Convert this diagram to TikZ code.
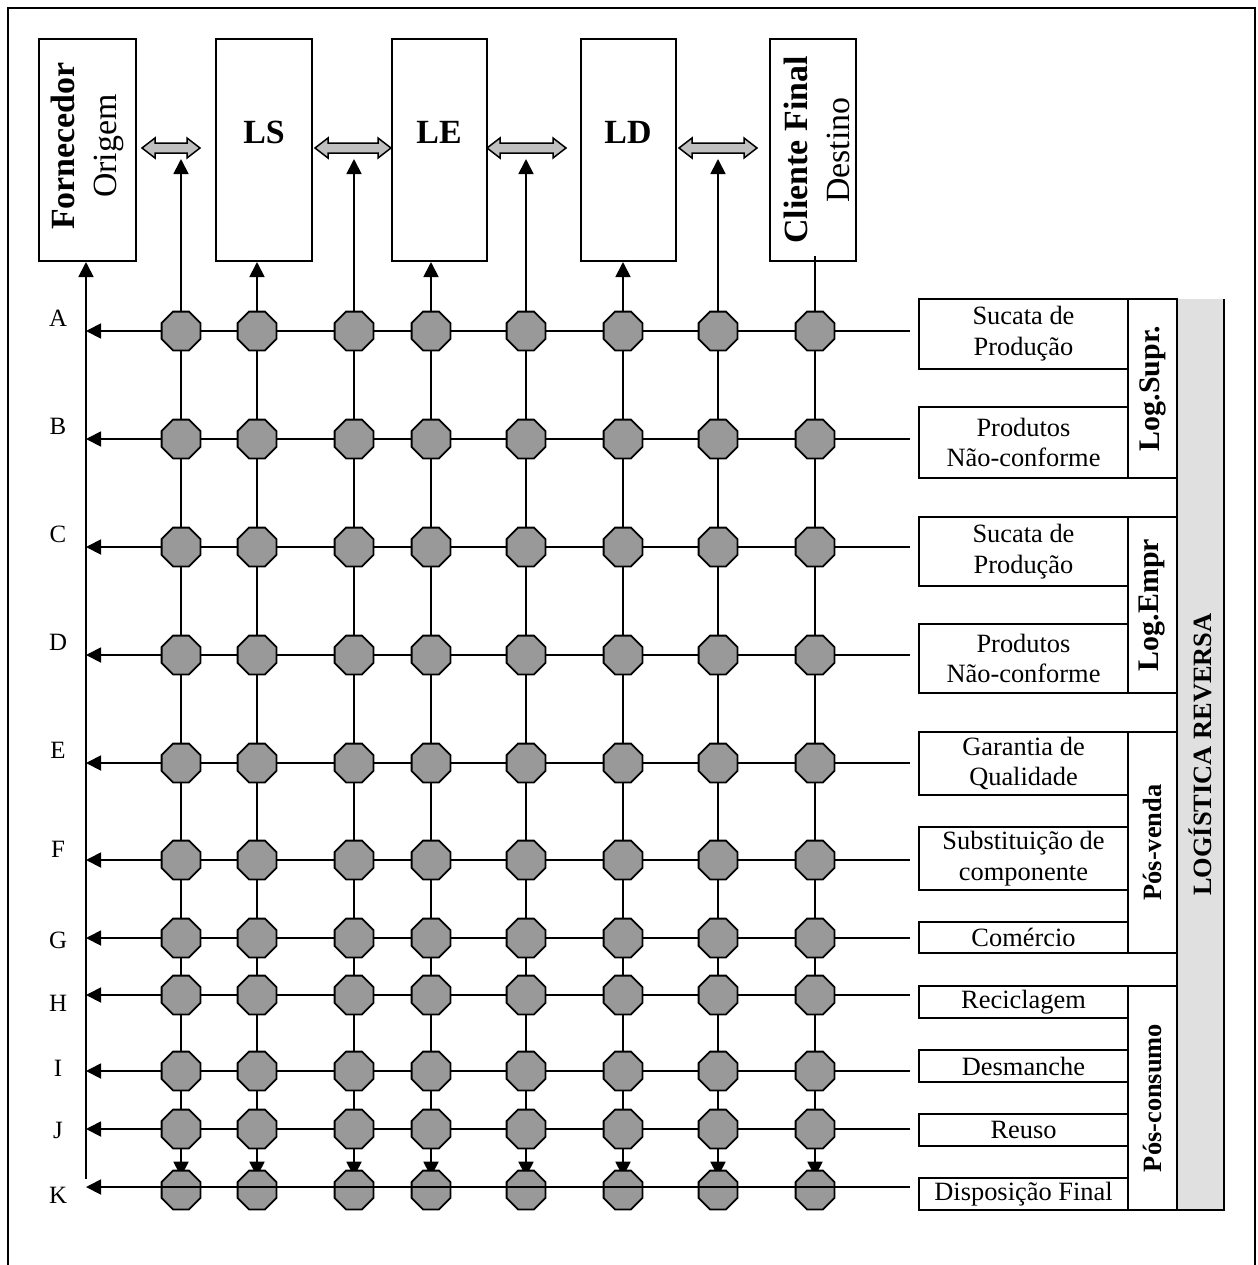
\documentclass[tikz,border=0pt]{standalone}
\usepackage{fontspec}
\setmainfont{Liberation Serif}
\usetikzlibrary{shapes.geometric,arrows.meta,calc}
\pgfdeclarelayer{bg}
\pgfsetlayers{bg,main}
\definecolor{octgray}{RGB}{153,153,153}
\definecolor{arrgray}{RGB}{192,192,192}
\definecolor{lgray}{RGB}{224,224,224}
\newcommand\dbla[3]{%
  \draw[dblarrow] (#1,#3) -- (#1+13,#3-10) -- (#1+13,#3-5) -- (#2-13,#3-5) -- (#2-13,#3-10) -- (#2,#3)
    -- (#2-13,#3+10) -- (#2-13,#3+5) -- (#1+13,#3+5) -- (#1+13,#3+10) -- cycle;}
\begin{document}
\begin{tikzpicture}[x=1bp,y=-1bp,
  ln/.style={line width=1.8bp, draw=black},
  arr/.style={ln, -{Triangle[length=15bp,width=15bp]}},
  oct/.style={regular polygon, regular polygon sides=8, minimum size=42bp, inner sep=0pt,
              fill=octgray, draw=black, line width=1.8bp},
  topbox/.style={draw, line width=2bp, minimum height=222bp, inner sep=0pt},
  lab/.style={draw, line width=2bp, minimum width=209bp, inner sep=0pt, align=center,
              font=\fontsize{26.5}{31}\selectfont},
  grp/.style={draw, line width=2bp, minimum width=49bp, inner sep=0pt},
  grptext/.style={rotate=90, inner sep=0pt, font=\fontsize{30}{34}\selectfont\bfseries},
  grptexts/.style={rotate=90, inner sep=0pt, font=\fontsize{26.5}{30}\selectfont\bfseries},
  dblarrow/.style={fill=arrgray, draw=black, line width=1.5bp, line join=miter},
  rowlab/.style={inner sep=0pt, font=\fontsize{25}{30}\selectfont},
  bigtext/.style={inner sep=0pt, font=\fontsize{34}{40}\selectfont\bfseries},
  rottext/.style={rotate=90, inner sep=0pt, align=center, font=\fontsize{34}{42}\selectfont}]
\useasboundingbox (0,0) rectangle (1258,1265);
% frame
\draw[line width=2bp] (8,1275) -- (8,8) -- (1255,8) -- (1255,1275);

% top boxes
\node[topbox, minimum width=97bp] (Forn) at (87.5,150) {};
\node[topbox, minimum width=96bp] (LS) at (264,150) {};
\node[topbox, minimum width=95bp] (LE) at (439.5,150) {};
\node[topbox, minimum width=95bp] (LD) at (628.5,150) {};
\node[topbox, minimum width=86bp] (CF) at (813,150) {};
\node[rottext] (tForn) at (87.5,146) {\textbf{Fornecedor}\\Origem};
\node[bigtext] (tLS) at (264,132) {LS};
\node[bigtext] (tLE) at (439,132) {LE};
\node[bigtext] (tLD) at (628,132) {LD};
\node[rottext] (tCF) at (817,150) {\textbf{Cliente Final}\\Destino};

% double arrows
\dbla{142}{200}{148}
\dbla{315}{391}{148}
\dbla{487}{566}{148}
\dbla{679}{757}{148}

% octagons
\foreach \r/\y in {A/331,B/439,C/547,D/655,E/763,F/860,G/938,H/995,I/1071,J/1129}{
  \foreach \c/\x in {1/181,2/257,3/354,4/431,5/526,6/623,7/718,8/815}{
    \node[oct] (o-\r-\c) at (\x,\y) {};
  }
}
\foreach \c/\x in {1/181,2/257,3/354,4/431,5/526,6/623,7/718,8/815}{
  \node[oct] (o-K-\c) at (\x,1190) {};
}

% row labels
\foreach \r/\y in {A/318,B/426,C/534,D/642,E/750,F/849,G/940,H/1003,I/1068,J/1130,K/1195}{
  \node[rowlab] (l-\r) at (58,\y) {\r};
}

% right label boxes
\node[lab, minimum height=70bp] (bA) at (1023.5,334) {Sucata de\\Produção};
\node[lab, minimum height=71bp] (bB) at (1023.5,442.5) {Produtos\\Não-conforme};
\node[lab, minimum height=69bp] (bC) at (1023.5,551.5) {Sucata de\\Produção};
\node[lab, minimum height=69bp] (bD) at (1023.5,658.5) {Produtos\\Não-conforme};
\node[lab, minimum height=63bp] (bE) at (1023.5,763.5) {Garantia de\\Qualidade};
\node[lab, minimum height=63bp] (bF) at (1023.5,858.5) {Substituição de\\componente};
\node[lab, minimum height=31bp] (bG) at (1023.5,937.5) {Comércio};
\node[lab, minimum height=32bp] (bH) at (1023.5,1002) {Reciclagem};
\node[lab, minimum height=32bp] (bI) at (1023.5,1066) {Desmanche};
\node[lab, minimum height=32bp] (bJ) at (1023.5,1130) {Reuso};
\node[lab, minimum height=32bp] (bK) at (1023.5,1194) {Disposição Final};

% group boxes
\node[grp, minimum height=179bp] (gSup) at (1152.5,388.5) {};
\node[grp, minimum height=176bp] (gEmp) at (1152.5,605) {};
\node[grp, minimum height=221bp] (gVen) at (1152.5,842.5) {};
\node[grp, minimum height=224bp] (gCon) at (1152.5,1098) {};
\node[grptext] (tSup) at (gSup.center) {Log.Supr.};
\node[grptext] (tEmp) at (gEmp.center) {Log.Empr};
\node[grptexts] (tVen) at (gVen.center) {Pós-venda};
\node[grptexts] (tCon) at (gCon.center) {Pós-consumo};

% Logistica reversa
\node[fill=lgray, minimum width=47bp, minimum height=911bp, inner sep=0pt] (LR) at (1200.5,754.5) {};
\draw[line width=2bp] (LR.north west) -- (LR.south west) -- (LR.south east) -- (LR.north east);
\node[grptexts] (tLR) at (LR.center) {LOGÍSTICA REVERSA};

% coordinates
\foreach \r/\y in {A/331,B/439,C/547,D/655,E/763,F/860,G/938,H/995,I/1071,J/1129,K/1187}{
  \coordinate (re-\r) at (910,\y);
  \coordinate (le-\r) at (86,\y);
}
\coordinate (lb) at (86,1179);
\foreach \c/\x in {1/181,3/354,5/526,7/718}{
  \coordinate (t-\c) at (\x,159);
}

\begin{pgfonlayer}{bg}
  \foreach \r in {A,B,C,D,E,F,G,H,I,J}{
    \draw[arr] (re-\r) -- (le-\r);
  }
  \foreach \c in {1,...,8}{
    \draw[ln] (o-J-\c.center) -- (o-A-\c.center);
    \draw[arr] (o-J-\c.center) -- ($(o-K-\c.north)+(0,7)$);
  }
  \foreach \c in {1,3,5,7}{
    \draw[arr] (o-A-\c.center) -- (t-\c);
  }
  \draw[arr] (o-A-2.center) -- (o-A-2.center |- LS.south);
  \draw[arr] (o-A-4.center) -- (o-A-4.center |- LE.south);
  \draw[arr] (o-A-6.center) -- (o-A-6.center |- LD.south);
  \draw[ln] (o-A-8.center) -- ($(o-A-8.center |- CF.south)+(0,-6)$);
  \draw[arr] (lb) -- (lb |- Forn.south);
\end{pgfonlayer}
% K row line over octagons
\draw[arr] (re-K) -- (le-K);
\end{tikzpicture}
\end{document}
